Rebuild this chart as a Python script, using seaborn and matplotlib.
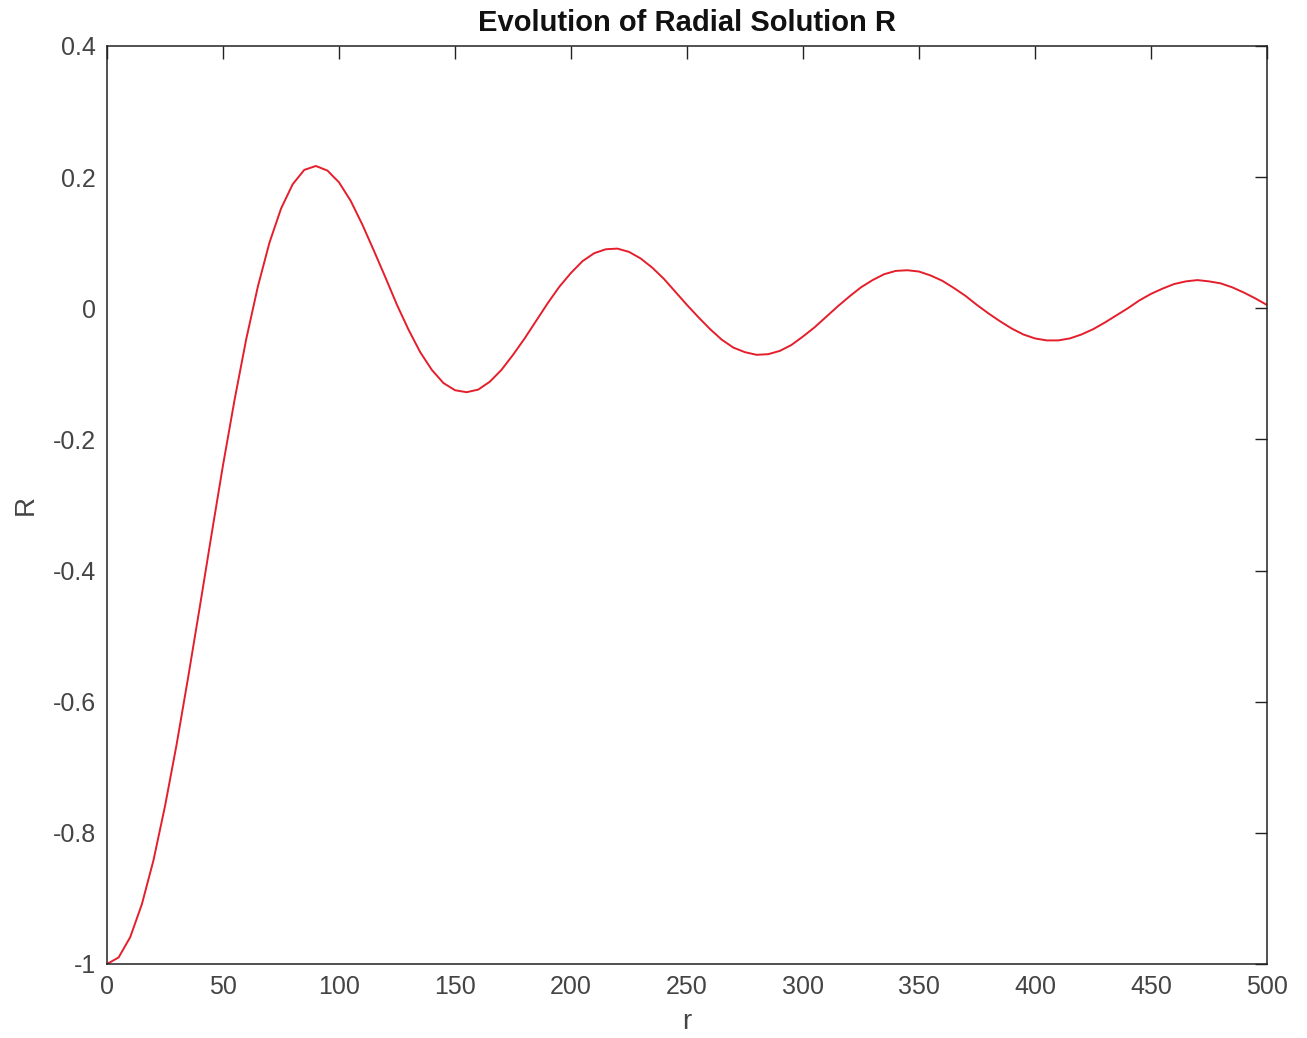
import numpy as np
import pandas as pd
import matplotlib
matplotlib.use("Agg")
import matplotlib.pyplot as plt
import seaborn as sns

# Values (r step 5)
r_values = list(range(0, 501, 5))
R_values = [
    -1.000, -0.990, -0.959, -0.909, -0.842, -0.759,
    -0.665, -0.562, -0.455, -0.346, -0.239, -0.139,
    -0.047, 0.033, 0.100, 0.152, 0.189, 0.211,
    0.217, 0.210, 0.192, 0.164, 0.128, 0.088,
    0.047, 0.005, -0.033, -0.067, -0.094, -0.114,
    -0.125, -0.128, -0.124, -0.112, -0.094, -0.071,
    -0.046, -0.019, 0.008, 0.033, 0.054, 0.072,
    0.084, 0.090, 0.091, 0.086, 0.076, 0.062,
    0.045, 0.025, 0.005, -0.014, -0.032, -0.048,
    -0.060, -0.067, -0.071, -0.070, -0.065, -0.056,
    -0.043, -0.029, -0.013, 0.003, 0.018, 0.032,
    0.043, 0.052, 0.057, 0.058, 0.056, 0.050,
    0.042, 0.031, 0.019, 0.005, -0.008, -0.020,
    -0.031, -0.040, -0.046, -0.049, -0.049, -0.046,
    -0.040, -0.032, -0.022, -0.011, 0.000, 0.012,
    0.022, 0.030, 0.037, 0.041, 0.043, 0.041,
    0.038, 0.032, 0.024, 0.015, 0.005,
]
x_ticks = [0, 50, 100, 150, 200, 250, 300, 350, 400, 450, 500]
y_ticks = [-1, -0.8, -0.6, -0.4, -0.2, 0, 0.2, 0.4]
y_tick_labels = ["-1", "-0.8", "-0.6", "-0.4", "-0.2", "0", "0.2", "0.4"]

df = pd.DataFrame({"r": r_values, "R": R_values})

sns.set_theme(style="white")
plt.rcParams["font.family"] = ["Liberation Sans", "DejaVu Sans"]

fig = plt.figure(figsize=(13.07, 10.38), dpi=100)
ax = fig.add_axes([0.0819, 0.0713, 0.8875, 0.8844])

sns.lineplot(data=df, x="r", y="R", ax=ax, color="#e41e2b", linewidth=1.4)

ax.set_xlim(0, 500)
ax.set_ylim(-1, 0.4)
ax.set_xticks(x_ticks)
ax.set_xticklabels([str(t) for t in x_ticks])
ax.set_yticks(y_ticks)
ax.set_yticklabels(y_tick_labels)

ax.tick_params(axis="both", which="both", direction="in", length=9, width=1.0,
               color="#222222", labelsize=18, labelcolor="#444444",
               top=True, right=True)
ax.tick_params(axis="x", pad=8)
ax.tick_params(axis="y", pad=8)
for s in ax.spines.values():
    s.set_visible(True)
    s.set_color("#222222")
    s.set_linewidth(1.1)

ax.set_xlabel("r", fontsize=20, color="#444444", labelpad=7)
ax.set_ylabel("R", fontsize=20, color="#444444", labelpad=10)
ax.set_title("Evolution of Radial Solution R", fontsize=21, fontweight="bold",
             color="#111111", pad=11)

fig.savefig("out.png", dpi=100, facecolor="white")
